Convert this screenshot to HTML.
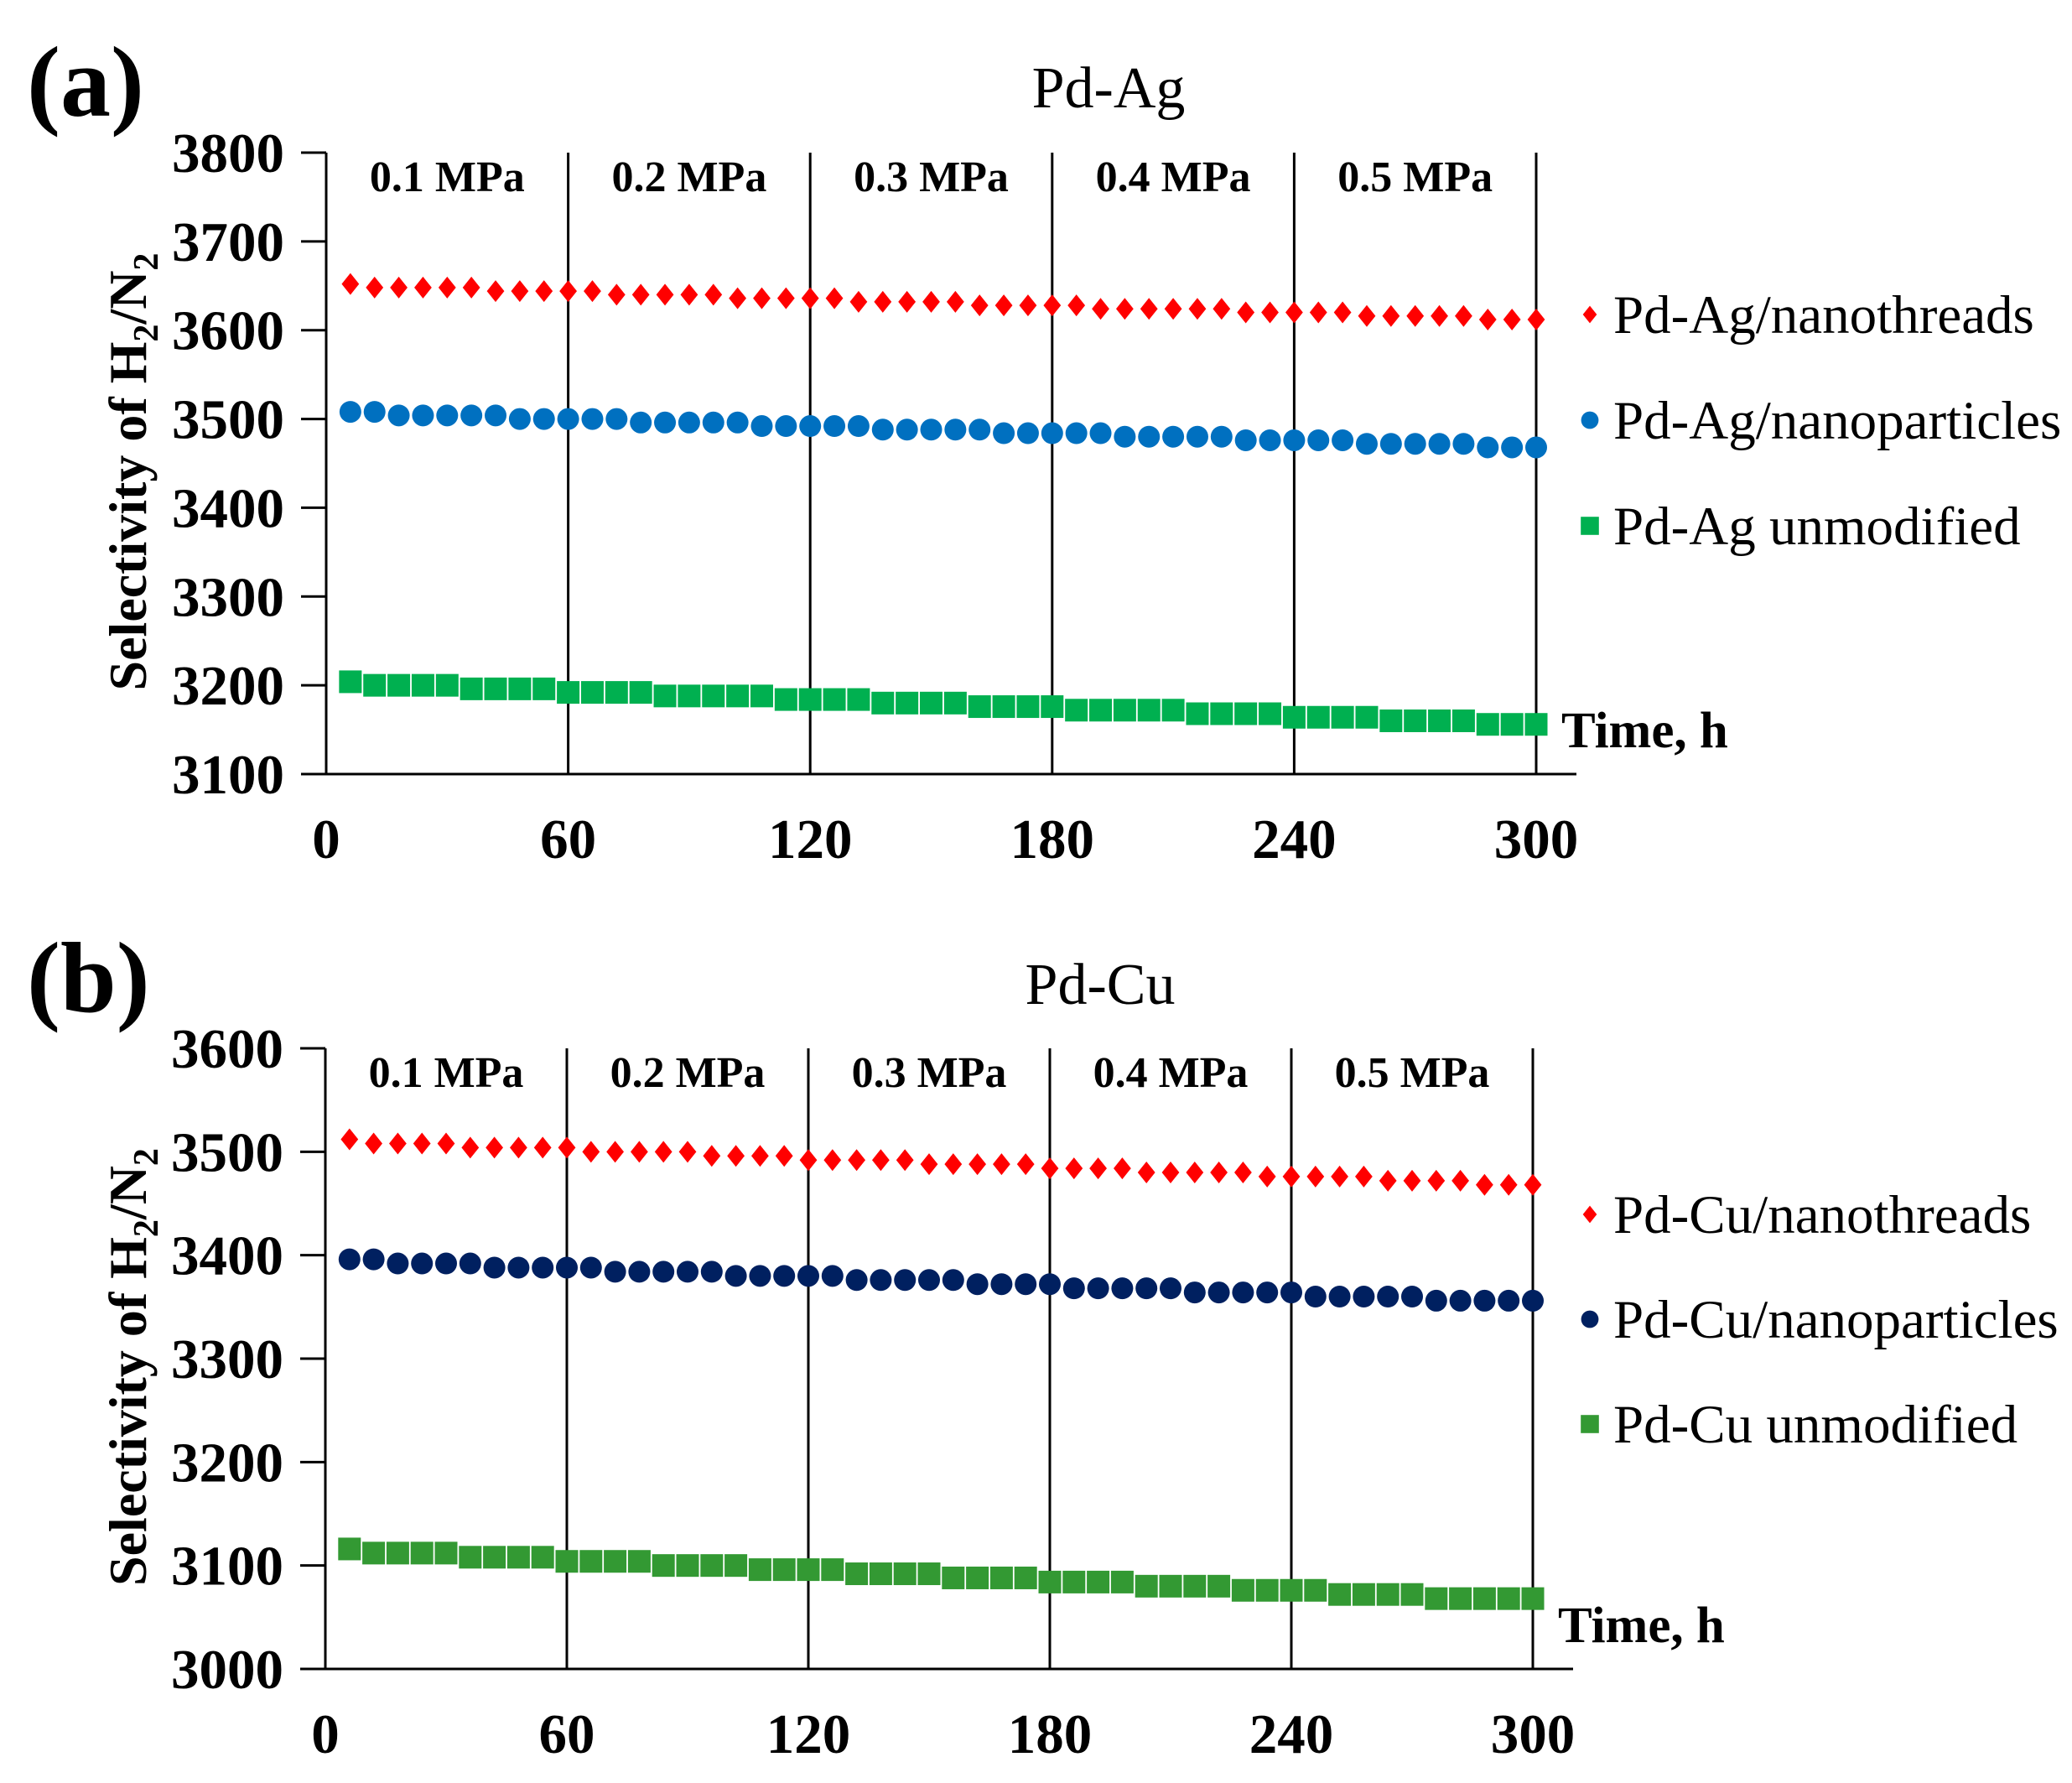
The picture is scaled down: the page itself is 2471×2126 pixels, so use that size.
<!DOCTYPE html>
<html><head><meta charset="utf-8"><style>
html,body{margin:0;padding:0;background:#fff;}
svg{display:block;font-family:"Liberation Serif",serif;}
</style></head><body>
<svg id="s" width="2471" height="2126" viewBox="0 0 2471 2126" xmlns="http://www.w3.org/2000/svg">
<text x="32" y="138" font-size="120" font-weight="bold">(a)</text>
<text x="32" y="1206" font-size="120" font-weight="bold">(b)</text>
<text x="1322" y="128" font-size="70" text-anchor="middle">Pd-Ag</text>
<text x="1312" y="1197" font-size="70" text-anchor="middle">Pd-Cu</text>
</svg>
<script>
const s=document.getElementById('s');const NS='http://www.w3.org/2000/svg';
function el(t,a,txt){const e=document.createElementNS(NS,t);for(const k in a)e.setAttribute(k,a[k]);if(txt!==undefined)e.textContent=txt;s.appendChild(e);return e;}
function panel(o){
 const {x0,x300,yTop,yBot,vmin,vmax,series,legY,leg}=o;
 const X=t=>x0+(x300-x0)*t/300, Y=v=>yBot-(yBot-yTop)*(v-vmin)/(vmax-vmin);
 el('line',{x1:x0,y1:yTop,x2:x0,y2:yBot,stroke:'#000','stroke-width':3});
 el('line',{x1:x0-30,y1:yBot,x2:x300+48,y2:yBot,stroke:'#000','stroke-width':3});
 for(let v=vmin;v<=vmax;v+=100){const y=Y(v);el('line',{x1:x0-30,y1:y,x2:x0,y2:y,stroke:'#000','stroke-width':3});
  el('text',{x:x0-50,y:y+23,'font-size':67,'font-weight':'bold','text-anchor':'end'},v);}
 for(let t=0;t<=300;t+=60){const x=X(t);if(t>0)el('line',{x1:x,y1:yTop,x2:x,y2:yBot,stroke:'#000','stroke-width':3});
  el('text',{x:x,y:yBot+100,'font-size':67,'font-weight':'bold','text-anchor':'middle'},t);}
 ['0.1','0.2','0.3','0.4','0.5'].forEach((p,i)=>el('text',{x:X(30+60*i),y:yTop+46,'font-size':52,'font-weight':'bold','text-anchor':'middle'},p+' MPa'));
 el('text',{x:x300+30,y:yBot-32,'font-size':61,'font-weight':'bold'},'Time, h');
 const yc=(yTop+yBot)/2+10;
 const tl=el('text',{x:0,y:0,'font-size':64,'font-weight':'bold','text-anchor':'middle',transform:`translate(174,${yc}) rotate(-90)`});
 tl.innerHTML='Selectivity of  H<tspan font-size="42" dy="14">2</tspan><tspan dy="-14">/N</tspan><tspan font-size="42" dy="14">2</tspan>';
 series.forEach((sr,k)=>{
  for(let i=1;i<=50;i++){const t=6*i;let v=sr.a+(sr.b-sr.a)*(i-1)/49;v=Math.round(v/4)*4;
   mark(sr.m,X(t),Y(v),sr.c);}
  mark(sr.m,1896,legY[k],sr.c,0.8);
  el('text',{x:1924,y:legY[k]+22,'font-size':65},leg[k]);
 });
}
function mark(m,x,y,c,sc=1){
 if(m==='d'){const r=13*sc;el('polygon',{points:`${x},${y-r} ${x+r*0.8},${y} ${x},${y+r} ${x-r*0.8},${y}`,fill:c});}
 else if(m==='c')el('circle',{cx:x,cy:y,r:13*sc,fill:c});
 else {const h=13.5*sc;el('rect',{x:x-h,y:y-h,width:2*h,height:2*h,fill:c});}
}
panel({x0:389,x300:1832,yTop:182,yBot:923,vmin:3100,vmax:3800,legY:[375,501,627],
 series:[{m:'d',c:'#ff0000',a:3650,b:3612},{m:'c',c:'#0070c0',a:3507,b:3468},{m:'s',c:'#00b050',a:3202,b:3156}],
 leg:['Pd-Ag/nanothreads','Pd-Ag/nanoparticles','Pd-Ag unmodified']});
panel({x0:388,x300:1828,yTop:1250,yBot:1990,vmin:3000,vmax:3600,legY:[1448,1573,1698],
 series:[{m:'d',c:'#ff0000',a:3510,b:3468},{m:'c',c:'#002060',a:3395,b:3354},{m:'s',c:'#339933',a:3114,b:3066}],
 leg:['Pd-Cu/nanothreads','Pd-Cu/nanoparticles','Pd-Cu unmodified']});
</script>
</body></html>
